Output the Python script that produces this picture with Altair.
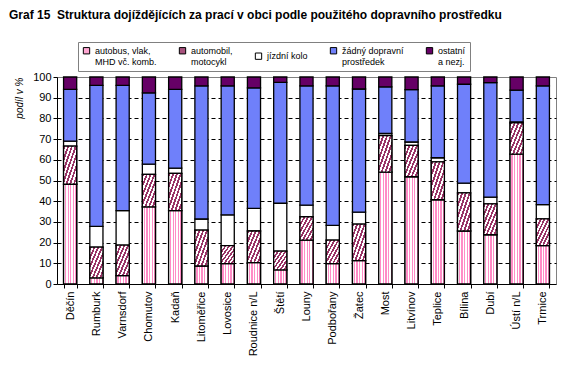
import altair as alt
import pandas as pd

cities = ["Děčín", "Rumburk", "Varnsdorf", "Chomutov", "Kadaň", "Litoměřice", "Lovosice",
          "Roudnice n/L", "Štětí", "Louny", "Podbořany", "Žatec", "Most", "Litvínov",
          "Teplice", "Bílina", "Dubí", "Ústí n/L", "Trmice"]

series = ["autobus, vlak,|MHD vč. komb.", "automobil,|motocykl", "jízdní kolo",
          "žádný dopravní|prostředek", "ostatní|a nezj."]

bus   = [48.2, 3.0, 4.0, 37.3, 35.4, 8.7, 9.8, 10.3, 6.8, 21.2, 9.8, 11.3, 54.0, 51.8, 40.7, 25.6, 23.8, 62.7, 18.5]
car   = [18.4, 14.8, 14.8, 15.7, 18.0, 17.3, 8.7, 15.3, 9.1, 11.3, 11.4, 17.6, 17.7, 15.2, 18.3, 18.4, 14.9, 15.1, 13.0]
bike  = [2.4, 10.0, 16.6, 4.9, 2.6, 5.4, 14.9, 10.9, 23.1, 5.6, 7.1, 5.8, 1.0, 1.6, 2.0, 4.7, 3.3, 0.5, 6.8]
none_ = [25.0, 68.2, 60.6, 34.4, 38.0, 64.3, 62.3, 58.2, 58.4, 57.6, 67.4, 59.5, 22.5, 25.3, 34.7, 47.8, 55.3, 15.4, 57.4]
other = [6.0, 4.0, 4.0, 7.7, 6.0, 4.3, 4.3, 5.3, 2.6, 4.3, 4.3, 5.8, 4.8, 6.1, 4.3, 3.5, 2.7, 6.3, 4.3]

colors = ["#FFA6D2", "#A8527D", "#FFFFFF", "#6F80FA", "#660066"]

rows = []
for ci, c in enumerate(cities):
    for k, (s, vals) in enumerate(zip(series, [bus, car, bike, none_, other])):
        rows.append({"city": c, "series": s, "k": k, "v": vals[ci]})
df = pd.DataFrame(rows)


def stripes(c1, c2, n, duty, x1, y1, x2, y2):
    stops = []
    for i in range(n):
        a = i / n
        b = (i + duty) / n
        c = (i + 1) / n
        stops += [{"offset": a, "color": c1}, {"offset": b, "color": c1},
                  {"offset": b, "color": c2}, {"offset": c, "color": c2}]
    return {"gradient": "linear", "x1": x1, "y1": y1, "x2": x2, "y2": y2, "stops": stops}


FONT = "Liberation Sans"

x_enc = alt.X("city:N", sort=cities, title=None,
              scale=alt.Scale(paddingInner=0.5, paddingOuter=0.25),
              axis=alt.Axis(labelAngle=-90, labelFontSize=11, labelFont=FONT, labelColor="black",
                            domainColor="black", tickColor="black", tickSize=4,
                            tickBand="extent", labelPadding=3))
y_enc = alt.Y("y0:Q", title="podíl v %",
              scale=alt.Scale(domain=[0, 100], nice=False),
              axis=alt.Axis(values=list(range(0, 101, 10)), labelFontSize=11, labelFont=FONT,
                            labelColor="black", domainColor="black", tickColor="black", tickSize=4,
                            labelPadding=2, grid=True, gridColor="black", gridDash=[4, 3],
                            gridOpacity={"condition": {"test": "datum.value == 0 || datum.value == 100", "value": 0}, "value": 1},
                            titleFont=FONT, titleFontSize=10, titleFontStyle="italic",
                            titleFontWeight="normal", titleAnchor="end", titlePadding=8, titleColor="black"))

base = alt.Chart(df).transform_stack(
    stack="v", groupby=["city"], as_=["y0", "y1"], sort=[alt.SortField("k", order="ascending")]
)

bars = base.mark_bar(stroke="black", strokeWidth=1.3).encode(
    x=x_enc, y=y_enc, y2="y1:Q",
    color=alt.Color("series:N", sort=series,
                    scale=alt.Scale(domain=series, range=colors),
                    legend=alt.Legend(title=None, orient="none", legendX=21, legendY=-35,
                                      direction="horizontal", columns=5, columnPadding=20,
                                      labelExpr="split(datum.label, '|')",
                                      labelFont=FONT, labelFontSize=9, labelColor="black",
                                      symbolType="square", symbolSize=40, symbolStrokeColor="black",
                                      symbolStrokeWidth=1, symbolOpacity=1,
                                      strokeColor="#808080", fillColor="white", padding=4,
                                      labelLimit=200))
)

pink = base.transform_filter("datum.k == 0").mark_bar(
    stroke="black", strokeWidth=1.3,
    fill=stripes("#FFFFFF", "#FF8CC6", 5, 0.5, 0, 0, 1, 0)
).encode(x=x_enc, y=y_enc, y2="y1:Q")

diag = base.transform_filter("datum.k == 1").mark_bar(
    stroke="black", strokeWidth=1.3,
    fill=stripes("#993366", "#FFFFFF", 7, 0.5, 0, 0, 1, 1)
).encode(x=x_enc, y=y_enc, y2="y1:Q")

chart = alt.layer(bars, pink, diag).properties(
    width=499, height=207,
    padding={"left": 49, "top": 69, "right": 20, "bottom": 83},
    autosize=alt.AutoSizeParams(type="none"),
    title=alt.TitleParams("Graf 15\u00a0\u00a0Struktura dojíždějících za prací v obci podle použitého dopravního prostředku",
                          anchor="start", frame="group", font="Liberation Sans Narrow, Arial Narrow, " + FONT,
                          fontSize=12, fontWeight="bold", color="black", dx=-48, offset=20)
).configure_view(stroke="#808080", strokeWidth=1)

chart.save("out.html", embed_options={"renderer": "svg", "actions": False})
